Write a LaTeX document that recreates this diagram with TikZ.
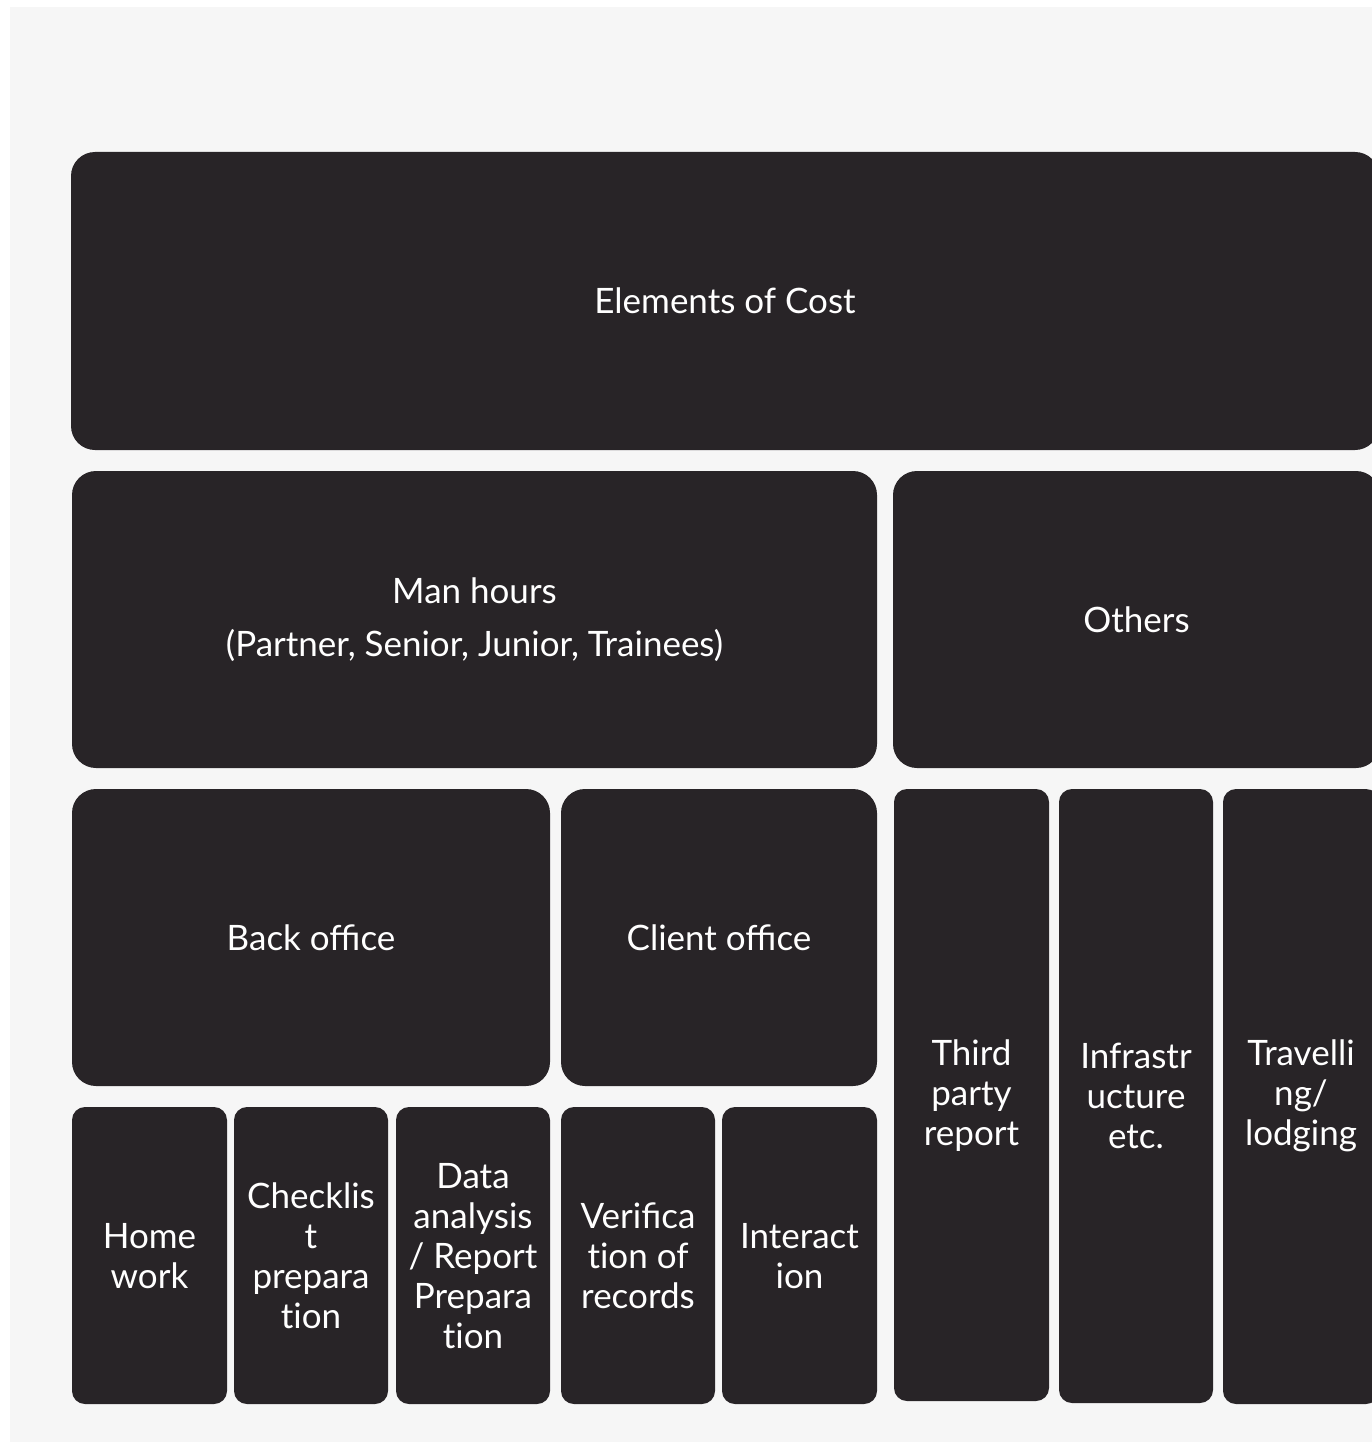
\documentclass[tikz,border=0pt]{standalone}
\usepackage{fontspec}
\setmainfont{Lato}
\definecolor{boxc}{HTML}{282427}
\definecolor{bgc}{HTML}{F6F6F6}
\newcommand{\nt}{t\kern0pt i}
\tikzset{
  cell/.style={fill=boxc},
  bigr/.style={rounded corners=24pt},
  smallr/.style={rounded corners=13pt},
  lbl/.style={text=white, align=center, font=\fontsize{35}{40}\selectfont}
}
\begin{document}
\begin{tikzpicture}[x=1pt,y=-1pt]
\useasboundingbox (0,0) rectangle (1372,1442);
\fill[white] (0,0) rectangle (1372,1442);
\fill[bgc] (10,7) rectangle (1372,1442);
\begin{scope}
\clip (0,0) rectangle (1372,1442);
% top
\path[cell,bigr] (71,152) rectangle (1379,450);
\node[lbl] (cost) at (725,301) {Elements of Cost};
% row 2
\path[cell,bigr] (72,471) rectangle (877,768);
\node[lbl,font=\fontsize{35}{53}\selectfont] (man) at (474.5,619.5) {Man hours\\(Partner, Senior, Junior, Trainees)};
\path[cell,bigr] (893,471) rectangle (1380,768);
\node[lbl] (oth) at (1136.5,620) {Others};
% row 3
\path[cell,bigr] (72,789) rectangle (550,1086);
\node[lbl] (back) at (311,938) {Back office};
\path[cell,bigr] (561,789) rectangle (877,1086);
\node[lbl] (client) at (719,938) {Client office};
% right column
\path[cell,smallr] (894,789) rectangle (1049,1401);
\node[lbl] (third) at (971.5,1096) {Third\\party\\report};
\path[cell,smallr] (1059,789) rectangle (1213,1403);
\node[lbl] (infra) at (1136,1096) {Infrastr\\ucture\\etc.};
\path[cell,smallr] (1223,789) rectangle (1379,1404);
\node[lbl] (trav) at (1301,1096) {Travelli\\ng/\\lodging};
% bottom row
\path[cell,smallr] (72,1107) rectangle (227,1404);
\node[lbl] (home) at (149.5,1256) {Home\\work};
\path[cell,smallr] (234,1107) rectangle (388,1404);
\node[lbl] (check) at (311,1256) {Checklis\\t\\prepara\\\nt on};
\path[cell,smallr] (396,1107) rectangle (550,1404);
\node[lbl] (data) at (473,1256) {Data\\analysis\\/ Report\\Prepara\\\nt on};
\path[cell,smallr] (561,1107) rectangle (715,1404);
\node[lbl] (verif) at (638,1256) {Verifica\\\nt on of\\records};
\path[cell,smallr] (722,1107) rectangle (877,1404);
\node[lbl] (inter) at (799.5,1256) {Interact\\ion};
\end{scope}
\end{tikzpicture}
\end{document}
